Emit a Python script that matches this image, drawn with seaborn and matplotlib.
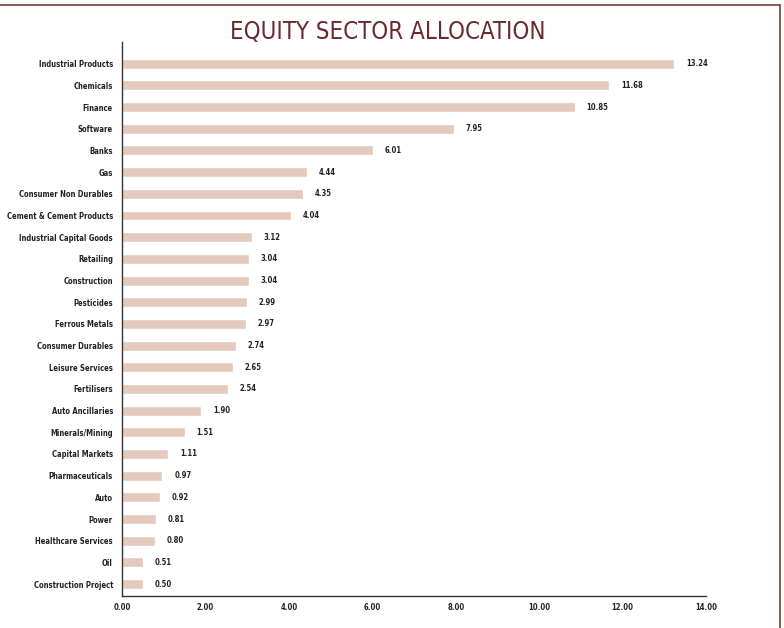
import matplotlib
matplotlib.use("Agg")
from matplotlib import pyplot as plt
from matplotlib.lines import Line2D
from matplotlib.ticker import FixedLocator
import seaborn as sns
import pandas as pd
import numpy as np

# data
sectors = ['Industrial Products', 'Chemicals', 'Finance', 'Software', 'Banks', 'Gas',
           'Consumer Non Durables', 'Cement & Cement Products', 'Industrial Capital Goods',
           'Retailing', 'Construction', 'Pesticides', 'Ferrous Metals', 'Consumer Durables',
           'Leisure Services', 'Fertilisers', 'Auto Ancillaries', 'Minerals/Mining',
           'Capital Markets', 'Pharmaceuticals', 'Auto', 'Power', 'Healthcare Services',
           'Oil', 'Construction Project']
weights = [13.24, 11.68, 10.85, 7.95, 6.01, 4.44, 4.35, 4.04, 3.12, 3.04, 3.04, 2.99,
           2.97, 2.74, 2.65, 2.54, 1.90, 1.51, 1.11, 0.97, 0.92, 0.81, 0.80, 0.51, 0.50]
xticks = [0, 2, 4, 6, 8, 10, 12, 14]

df = pd.DataFrame({'sector': sectors, 'weight': weights})

sns.set_style('white')
plt.rcParams['font.family'] = ['DejaVu Sans']
plt.rcParams['font.stretch'] = 'condensed'

fig = plt.figure(figsize=(7.84, 6.28), dpi=100)
ax = fig.add_axes([0.1556, 0.051, 0.745, 0.882])

sns.barplot(data=df, x='weight', y='sector', color='#e6c9bd', saturation=1,
            width=0.46, ax=ax)

lab = dict(fontsize=5.5, color='#222222', fontweight='bold', fontstretch='condensed')

for i, v in enumerate(weights):
    ax.text(v + 0.28, i, f'{v:.2f}', va='center', ha='left', **lab)

ax.set_xlim(0, 14)
ax.set_ylim(len(sectors) - 0.45, -1.0)
ax.set_xticks(xticks)
ax.set_xticklabels([f'{t:.2f}' for t in xticks], **lab)
ax.set_yticks(range(len(sectors)))
ax.set_yticklabels(sectors, **lab)
ax.yaxis.set_minor_locator(FixedLocator(np.arange(-0.5, len(sectors), 1.0)))
ax.tick_params(axis='y', which='major', length=0, pad=6.5)
ax.tick_params(axis='y', which='minor', length=4, width=0.8, color='#444444')
ax.tick_params(axis='x', which='major', length=3, width=0.8, color='#444444', pad=1.8)
ax.set_xlabel('')
ax.set_ylabel('')
for s in ['top', 'right']:
    ax.spines[s].set_visible(False)
for s in ['left', 'bottom']:
    ax.spines[s].set_color('#333333')
    ax.spines[s].set_linewidth(1.0)

fig.text(0.494, 0.949, 'EQUITY SECTOR ALLOCATION', ha='center', va='center',
         fontsize=17.2, color='#6b2a2e', fontstretch='condensed')

# frame lines (top and right)
fig.add_artist(Line2D([0, 0.995], [0.992, 0.992], transform=fig.transFigure,
                      color='#7a3d3d', linewidth=1.2))
fig.add_artist(Line2D([0.995, 0.995], [0, 0.992], transform=fig.transFigure,
                      color='#7a3d3d', linewidth=1.2))

fig.savefig('out.png', dpi=100)
